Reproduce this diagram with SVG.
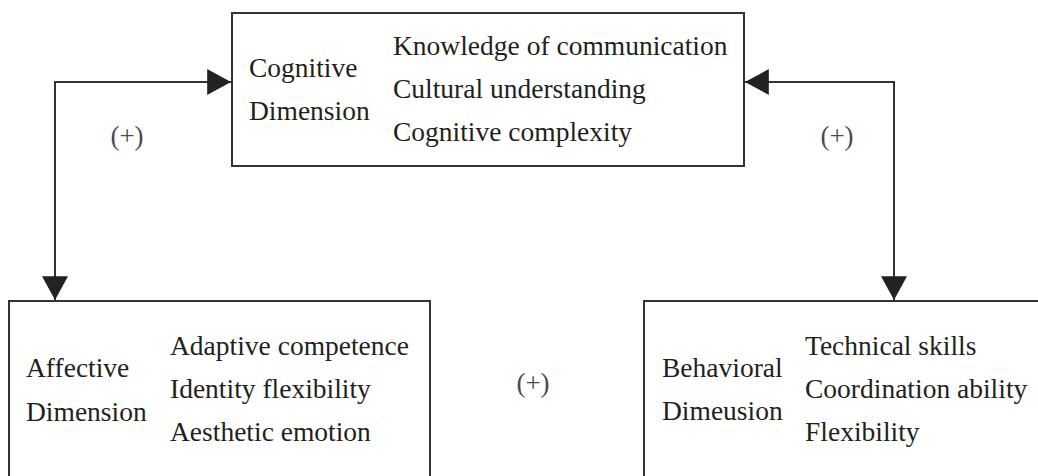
<svg xmlns="http://www.w3.org/2000/svg" width="1038" height="476" viewBox="0 0 1038 476">
<style>
  .box { fill: #ffffff; stroke: #333333; stroke-width: 2; }
  .conn { fill: none; stroke: #333333; stroke-width: 2; }
  .t { font-family: "Liberation Serif", "Times New Roman", serif; font-size: 27.5px; fill: #231f20; }
  .plus { font-family: "Liberation Serif", "Times New Roman", serif; font-size: 27px; fill: #4a4a55; text-anchor: middle; }
</style>
<defs>
  <marker id="arrow" markerUnits="userSpaceOnUse" markerWidth="24" markerHeight="26" viewBox="0 0 22 24" refX="22" refY="12" orient="auto-start-reverse">
    <path d="M0,0 L22,12 L0,24 z" fill="#222222"/>
  </marker>
</defs>
<rect width="1038" height="476" fill="#ffffff"/>

<g id="connectors">
  <path class="conn" d="M 55 300 V 82 H 231" marker-start="url(#arrow)" marker-end="url(#arrow)"/>
  <path class="conn" d="M 894 300 V 82 H 745" marker-start="url(#arrow)" marker-end="url(#arrow)"/>
  <text class="plus" x="127" y="145">(+)</text>
  <text class="plus" x="837" y="145">(+)</text>
  <text class="plus" x="533" y="392">(+)</text>
</g>

<g id="cognitive">
  <rect class="box" x="232" y="13" width="512" height="153"/>
  <text class="t" x="249" y="77">Cognitive</text>
  <text class="t" x="249" y="120">Dimension</text>
  <text class="t" x="393" y="55">Knowledge of communication</text>
  <text class="t" x="393" y="98">Cultural understanding</text>
  <text class="t" x="393" y="141">Cognitive complexity</text>
</g>

<g id="affective">
  <rect class="box" x="9" y="301" width="421" height="200"/>
  <text class="t" x="26" y="377">Affective</text>
  <text class="t" x="26" y="421">Dimension</text>
  <text class="t" x="170" y="355">Adaptive competence</text>
  <text class="t" x="170" y="398">Identity flexibility</text>
  <text class="t" x="170" y="441">Aesthetic emotion</text>
</g>

<g id="behavioral">
  <rect class="box" x="644" y="301" width="420" height="200"/>
  <text class="t" x="662" y="377">Behavioral</text>
  <text class="t" x="662" y="420">Dimeusion</text>
  <text class="t" x="805" y="355">Technical skills</text>
  <text class="t" x="805" y="398">Coordination ability</text>
  <text class="t" x="805" y="441">Flexibility</text>
</g>
</svg>
